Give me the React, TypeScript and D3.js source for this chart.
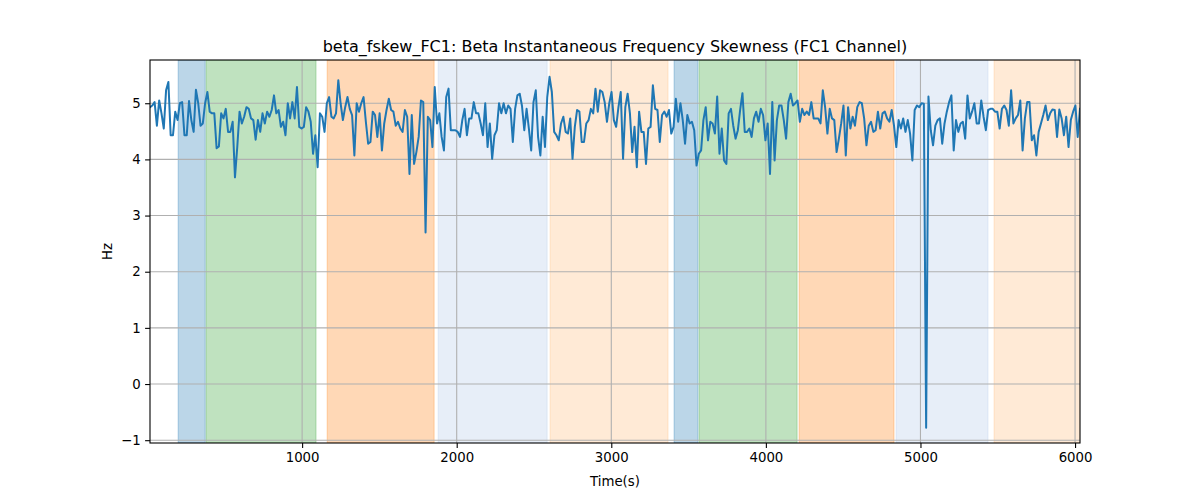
import { useEffect, useRef } from 'react'
import * as d3 from 'd3'

// signal samples, split into chunks left to right
const seriesA = [
  4.93, 4.96, 5.02, 4.6, 5.05, 4.82, 4.55, 5.23, 5.38, 4.43, 4.43, 4.85, 4.7, 5.0, 5.02, 4.43, 4.43, 5.04, 4.7, 4.49,
  5.24, 5.0, 4.6, 4.64, 5.0, 5.2, 4.85, 4.82, 4.82, 4.2, 4.23, 4.82, 4.73, 4.9, 4.49, 4.49, 4.67, 3.68, 4.22, 4.85,
  4.64, 4.76, 4.93, 4.9, 4.73, 4.7, 4.35, 4.7, 4.49, 4.82, 4.64, 4.85, 4.76, 4.88, 5.14, 4.82, 4.88, 4.58, 4.67, 4.43,
  5.0, 4.73, 5.02, 4.73, 5.29, 4.58, 4.55, 4.58, 4.93, 4.85, 4.67, 4.1, 4.43, 3.86, 4.82, 4.76, 4.49, 5.0, 5.11, 4.76,
  4.73, 4.82
]
const seriesB = [
  5.41, 5.0, 4.7, 4.93, 5.11, 4.9, 4.79, 4.07, 5.0, 4.85, 5.0, 5.11, 4.67, 4.28, 4.31, 4.85, 4.79, 4.4, 4.82, 4.16,
  4.64, 4.88, 5.08, 4.88, 4.85, 4.6, 4.67, 4.55, 4.49, 4.88, 4.76, 3.74, 4.79, 3.92, 4.13, 4.4, 5.05, 5.02, 2.7,
  4.76, 4.7, 4.22, 5.29, 4.64, 4.82, 4.4, 4.16, 5.11, 5.26, 4.52, 4.52, 4.52, 4.49, 4.4, 4.7, 4.9, 4.43, 4.73, 4.73,
  5.02, 4.82, 4.82, 4.64, 4.43, 5.0, 4.22, 4.64, 4.01, 4.43, 4.52, 5.0, 4.82, 5.0, 4.82, 4.96, 4.9, 4.31, 4.9, 5.14,
  5.17, 4.95
]
const seriesC = [
  4.52, 4.9, 4.55, 4.16, 5.02, 5.23, 4.4, 4.07, 4.76, 4.22, 5.11, 5.47, 5.2, 4.49, 4.43, 4.34, 4.64, 4.76, 4.49, 4.46,
  4.73, 4.01, 4.58, 4.88, 4.85, 4.31, 4.31, 4.64, 4.7, 4.9, 4.82, 5.26, 4.85, 5.23, 5.2, 5.02, 4.67, 5.0, 5.2, 4.7,
  4.58, 4.93, 5.2, 4.01, 4.93, 5.17, 4.82, 4.13, 4.58, 3.86, 4.85, 4.49, 4.49, 3.92, 4.55, 4.58, 5.32, 4.9, 4.88, 4.31,
  4.79, 4.85, 4.76, 4.88, 4.46, 4.58, 5.08, 4.67, 5.0, 4.7, 4.28, 4.79, 4.64, 4.67, 4.52, 3.89, 4.1, 4.16, 4.7, 4.93,
  4.34
]
const seriesD = [
  4.67, 4.64, 4.46, 5.12, 4.1, 4.55, 3.98, 3.92, 4.82, 4.9, 4.6, 4.37, 4.52, 4.88, 5.18, 4.49, 4.49, 4.55, 4.4, 4.73,
  4.85, 4.67, 4.9, 4.79, 4.34, 4.64, 3.74, 5.02, 3.98, 4.7, 4.96, 4.96, 4.7, 4.37, 5.02, 5.17, 4.96, 5.0, 5.05, 4.67,
  4.9, 4.79, 4.85, 4.79, 5.02, 4.73, 4.73, 4.73, 4.64, 5.23, 4.93, 4.46, 4.9, 4.73, 4.7, 4.13, 4.37, 4.64, 4.96, 4.07,
  4.93, 4.55, 4.76, 4.6, 4.93, 5.02, 5.0, 4.73, 4.25, 4.6, 4.67, 4.49, 4.52, 4.85, 4.55, 4.82, 4.85, 4.73, 4.67, 4.88,
  4.6
]
const seriesE = [
  4.22, 4.7, 4.55, 4.73, 4.49, 4.7, 4.46, 3.98, 4.88, 4.96, 4.93, 5.0, 4.99, -0.78, 5.12, 4.52, 4.25, 4.6, 4.7, 4.73,
  4.28, 4.64, 4.85, 5.02, 5.14, 4.16, 4.7, 4.49, 4.64, 4.67, 4.37, 5.14, 4.73, 4.85, 5.0, 4.64, 4.64, 5.05, 4.76, 4.52,
  4.88, 4.9, 4.9, 4.85, 4.85, 4.55, 4.9, 4.96, 4.88, 4.6, 5.23, 4.64, 4.73, 4.79, 5.05, 4.16, 4.73, 5.02, 5.02, 4.34,
  4.43, 4.07, 4.49, 4.64, 4.79, 4.96, 4.7, 4.82, 4.89, 4.88, 4.4, 4.89, 4.73, 4.43, 4.76, 4.22, 4.7, 4.85, 4.96, 4.4,
  4.9
]

const timeStart = 16
const timeEnd = 6032

// shaded phases
const phaseStarts = [198, 379, 1162, 1880, 2604, 3406, 3568, 4215, 4842, 5476]
const phaseEnds = [373, 1090, 1854, 2585, 3367, 3561, 4202, 4829, 5437, 6100]
const phaseColors = [
  '#1f77b4', '#2ca02c', '#ff7f0e', '#aec7e8', '#ffbb78',
  '#1f77b4', '#2ca02c', '#ff7f0e', '#aec7e8', '#ffbb78'
]

const xTicks = [1000, 2000, 3000, 4000, 5000, 6000]
const yTicks = [-1, 0, 1, 2, 3, 4, 5]

const title = 'beta_fskew_FC1: Beta Instantaneous Frequency Skewness (FC1 Channel)'

export default function App() {
  const svgRef = useRef<SVGSVGElement>(null)

  useEffect(() => {
    if (!svgRef.current) return
    const svg = d3.select(svgRef.current)
    svg.selectAll('*').remove()

    const values = [...seriesA, ...seriesB, ...seriesC, ...seriesD, ...seriesE]
    const step = (timeEnd - timeStart) / (values.length - 1)
    const data = values.map((v, i) => ({ t: timeStart + i * step, v }))

    const margin = { top: 60, right: 120, bottom: 57, left: 150 }
    const width = 1200 - margin.left - margin.right
    const height = 500 - margin.top - margin.bottom

    const x = d3.scaleLinear().domain([timeStart, timeEnd]).range([0, width])
    const y = d3.scaleLinear().domain([-1.05, 5.77]).range([height, 0])

    const font = 'DejaVu Sans, sans-serif'

    svg.append('defs')
      .append('clipPath')
      .attr('id', 'plotClip')
      .append('rect')
      .attr('width', width)
      .attr('height', height)

    const g = svg.append('g').attr('transform', `translate(${margin.left},${margin.top})`)

    const plot = g.append('g').attr('clip-path', 'url(#plotClip)')

    plot.selectAll('rect.phase')
      .data(phaseStarts.map((s, i) => ({ s, e: phaseEnds[i], c: phaseColors[i] })))
      .join('rect')
      .attr('class', 'phase')
      .attr('x', d => x(d.s))
      .attr('width', d => x(d.e) - x(d.s))
      .attr('y', 0)
      .attr('height', height)
      .attr('fill', d => d.c)
      .attr('fill-opacity', 0.3)
      .attr('stroke', d => d.c)
      .attr('stroke-opacity', 0.3)
      .attr('stroke-width', 1)

    // grid
    plot.append('g')
      .selectAll('line')
      .data(xTicks)
      .join('line')
      .attr('x1', d => x(d))
      .attr('x2', d => x(d))
      .attr('y1', 0)
      .attr('y2', height)
      .attr('stroke', '#b0b0b0')
      .attr('stroke-width', 1.1)
    plot.append('g')
      .selectAll('line')
      .data(yTicks)
      .join('line')
      .attr('x1', 0)
      .attr('x2', width)
      .attr('y1', d => y(d))
      .attr('y2', d => y(d))
      .attr('stroke', '#b0b0b0')
      .attr('stroke-width', 1.1)

    const line = d3.line<{ t: number; v: number }>()
      .x(d => x(d.t))
      .y(d => y(d.v))

    plot.append('path')
      .datum(data)
      .attr('fill', 'none')
      .attr('stroke', '#1f77b4')
      .attr('stroke-width', 2)
      .attr('stroke-linejoin', 'round')
      .attr('stroke-linecap', 'square')
      .attr('d', line)

    const styleAxis = (sel: d3.Selection<SVGGElement, unknown, null, undefined>) => {
      sel.select('.domain').remove()
      sel.selectAll('.tick line').attr('stroke', '#000').attr('stroke-width', 1.1)
      sel.selectAll('.tick text')
        .attr('fill', '#000')
        .style('font-family', font)
        .style('font-size', '13.3px')
    }

    g.append('g')
      .attr('transform', `translate(0,${height})`)
      .call(d3.axisBottom(x).tickValues(xTicks).tickSize(4.9).tickPadding(4.5).tickFormat(d3.format('d')))
      .call(styleAxis)

    g.append('g')
      .call(d3.axisLeft(y).tickValues(yTicks).tickSize(4.9).tickPadding(4.5)
        .tickFormat(d => (d as number) < 0 ? `\u2212${Math.abs(d as number)}` : `${d}`))
      .call(styleAxis)

    g.append('rect')
      .attr('width', width)
      .attr('height', height)
      .attr('fill', 'none')
      .attr('stroke', '#000')
      .attr('stroke-width', 1.1)

    svg.append('text')
      .attr('x', margin.left + width / 2)
      .attr('y', 52)
      .attr('text-anchor', 'middle')
      .style('font-family', font)
      .style('font-size', '16px')
      .text(title)

    svg.append('text')
      .attr('x', margin.left + width / 2)
      .attr('y', 486)
      .attr('text-anchor', 'middle')
      .style('font-family', font)
      .style('font-size', '13.3px')
      .text('Time(s)')

    svg.append('text')
      .attr('transform', `translate(112,${margin.top + height / 2}) rotate(-90)`)
      .attr('text-anchor', 'middle')
      .style('font-family', font)
      .style('font-size', '13.3px')
      .text('Hz')
  }, [])

  return (
    <svg
      ref={svgRef}
      width={1200}
      height={500}
      style={{ position: 'absolute', left: 0, top: 0, background: '#fff' }}
    />
  )
}
